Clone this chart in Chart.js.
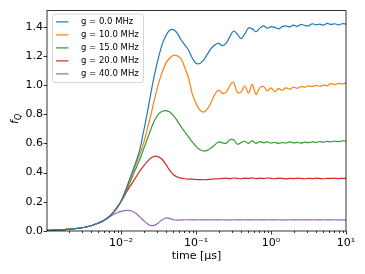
<!DOCTYPE html>
<html>
<head>
<meta charset="utf-8">
<script src="https://cdn.jsdelivr.net/npm/chart.js@4.4.1/dist/chart.umd.min.js"></script>
<style>
  html, body { margin: 0; padding: 0; background: #fff; }
  #wrap { width: 365px; height: 274px; }
</style>
</head>
<body>
<div id="wrap"><canvas id="fq"></canvas></div>
<script>
// time in microseconds (log spaced samples)
const times = [
  0.001, 0.001122, 0.001259, 0.001413, 0.001585, 0.001778, 0.001995, 0.002239, 0.002512, 0.002818,
  0.003162, 0.003548, 0.003981, 0.004467, 0.005012, 0.005623, 0.00631, 0.007079, 0.007943, 0.008913,
  0.01, 0.01122, 0.01259, 0.01413, 0.01585, 0.01778, 0.01995, 0.02239, 0.02512, 0.02818,
  0.03162, 0.03548, 0.03981, 0.04467, 0.05012, 0.05623, 0.0631, 0.07079, 0.07943, 0.08913,
  0.1, 0.1122, 0.1259, 0.1413, 0.1585, 0.1778, 0.1995, 0.2239, 0.2512, 0.2818,
  0.3162, 0.3548, 0.3981, 0.4467, 0.5012, 0.5623, 0.631, 0.7079, 0.7943, 0.8913,
  1, 1.122, 1.259, 1.413, 1.585, 1.778, 1.995, 2.239, 2.512, 2.818,
  3.162, 3.548, 3.981, 4.467, 5.012, 5.623, 6.31, 7.079, 7.943, 8.913, 10
];

const seriesLabels = ["g = 0.0 MHz", "g = 10.0 MHz", "g = 15.0 MHz", "g = 20.0 MHz", "g = 40.0 MHz"];

const fqG0 = [
  0.004, 0.005, 0.006, 0.007, 0.008, 0.010, 0.012, 0.014, 0.017, 0.020,
  0.024, 0.029, 0.036, 0.045, 0.055, 0.066, 0.082, 0.103, 0.130, 0.165,
  0.205, 0.265, 0.335, 0.405, 0.475, 0.555, 0.68, 0.81, 0.95, 1.08,
  1.19, 1.28, 1.34, 1.375, 1.38, 1.355, 1.31, 1.275, 1.24, 1.185,
  1.15, 1.148, 1.17, 1.21, 1.25, 1.275, 1.285, 1.27, 1.285, 1.33,
  1.37, 1.35, 1.318, 1.35, 1.39, 1.385, 1.365, 1.39, 1.405, 1.39,
  1.40, 1.395, 1.385, 1.40, 1.405, 1.398, 1.41, 1.402, 1.415, 1.408,
  1.405, 1.42, 1.412, 1.418, 1.41, 1.422, 1.415, 1.42, 1.412, 1.42, 1.418
];
const fqG10 = [
  0.004, 0.005, 0.006, 0.007, 0.008, 0.010, 0.012, 0.014, 0.017, 0.020,
  0.024, 0.029, 0.036, 0.045, 0.055, 0.066, 0.082, 0.103, 0.130, 0.165,
  0.203, 0.26, 0.325, 0.39, 0.455, 0.525, 0.6, 0.7, 0.8, 0.91,
  1.01, 1.09, 1.15, 1.185, 1.203, 1.2, 1.18, 1.12, 1.05, 0.94,
  0.875, 0.83, 0.815, 0.835, 0.88, 0.935, 0.965, 0.945, 0.95, 0.995,
  1.02, 0.95, 0.95, 0.995, 0.945, 1.005, 0.935, 0.98, 0.99, 0.96,
  0.98, 0.955, 0.975, 0.965, 0.98, 0.972, 0.985, 0.978, 0.99, 0.985,
  0.995, 0.99, 0.998, 0.992, 1.0, 0.995, 1.01, 1.003, 1.012, 1.006, 1.015
];
const fqG15 = [
  0.004, 0.005, 0.006, 0.007, 0.008, 0.010, 0.012, 0.014, 0.017, 0.020,
  0.024, 0.029, 0.036, 0.045, 0.055, 0.066, 0.082, 0.103, 0.129, 0.163,
  0.2, 0.25, 0.31, 0.37, 0.43, 0.49, 0.56, 0.63, 0.70, 0.76,
  0.80, 0.82, 0.825, 0.815, 0.79, 0.755, 0.715, 0.68, 0.645, 0.61,
  0.58, 0.558, 0.548, 0.552, 0.568, 0.59, 0.61, 0.605, 0.60, 0.625,
  0.625, 0.595, 0.605, 0.615, 0.60, 0.618, 0.60, 0.612, 0.605, 0.61,
  0.602, 0.608, 0.6, 0.606, 0.603, 0.61, 0.604, 0.607, 0.602, 0.609,
  0.605, 0.611, 0.607, 0.612, 0.609, 0.614, 0.61, 0.616, 0.612, 0.618, 0.615
];
const fqG20 = [
  0.004, 0.005, 0.006, 0.007, 0.008, 0.010, 0.012, 0.014, 0.017, 0.020,
  0.024, 0.029, 0.036, 0.045, 0.055, 0.066, 0.082, 0.102, 0.127, 0.16,
  0.2, 0.245, 0.29, 0.33, 0.37, 0.41, 0.445, 0.475, 0.5, 0.512,
  0.508, 0.49, 0.455, 0.415, 0.385, 0.37, 0.362, 0.358, 0.356, 0.355,
  0.353, 0.352, 0.351, 0.352, 0.355, 0.357, 0.358, 0.36, 0.362, 0.359,
  0.363, 0.361, 0.358, 0.362, 0.36, 0.364, 0.359, 0.362, 0.36, 0.363,
  0.361, 0.358, 0.362, 0.36, 0.357, 0.361, 0.359, 0.362, 0.36, 0.358,
  0.361, 0.359, 0.362, 0.36, 0.358, 0.361, 0.36, 0.362, 0.359, 0.361, 0.36
];
const fqG40 = [
  0.004, 0.005, 0.006, 0.007, 0.008, 0.010, 0.012, 0.014, 0.017, 0.020,
  0.024, 0.029, 0.036, 0.045, 0.055, 0.066, 0.080, 0.098, 0.113, 0.125,
  0.134, 0.14, 0.141, 0.135, 0.12, 0.097, 0.072, 0.05, 0.037, 0.04,
  0.057, 0.077, 0.089, 0.086, 0.077, 0.074, 0.076, 0.077, 0.077, 0.076,
  0.076, 0.077, 0.076, 0.076, 0.077, 0.076, 0.076, 0.077, 0.076, 0.076,
  0.077, 0.076, 0.076, 0.077, 0.076, 0.076, 0.077, 0.076, 0.076, 0.077,
  0.076, 0.076, 0.077, 0.076, 0.076, 0.077, 0.076, 0.076, 0.077, 0.076,
  0.076, 0.077, 0.076, 0.076, 0.077, 0.076, 0.076, 0.077, 0.076, 0.076, 0.077
];

const xTicks = [0.01, 0.1, 1, 10];
const xTickLabels = ["10⁻²", "10⁻¹", "10⁰", "10¹"];
const yTicks = [0, 0.2, 0.4, 0.6, 0.8, 1.0, 1.2, 1.4];
const yTickLabels = ["0.0", "0.2", "0.4", "0.6", "0.8", "1.0", "1.2", "1.4"];

const colors = ["#1f77b4", "#ff7f0e", "#2ca02c", "#d62728", "#9467bd"];
const allSeries = [fqG0, fqG10, fqG15, fqG20, fqG40];

const tickFont = { family: "DejaVu Sans", size: 11 };

// frame, tick marks, legend box and the f_Q label
const extras = {
  id: "extras",
  afterDatasetsDraw(chart) {
    const { ctx, chartArea: a, scales: { x, y } } = chart;
    ctx.save();
    ctx.strokeStyle = "#000";
    ctx.lineWidth = 0.8;
    ctx.beginPath();
    for (let e = -3; e <= 1; e++) {
      for (let m = 1; m <= 9; m++) {
        const v = m * Math.pow(10, e);
        if (v < x.min || v > x.max * 1.0001) continue;
        const px = Math.round(x.getPixelForValue(v)) + 0.5;
        const len = m === 1 ? 3.5 : 2;
        ctx.moveTo(px, a.bottom);
        ctx.lineTo(px, a.bottom + len);
      }
    }
    yTicks.forEach(v => {
      const py = Math.round(y.getPixelForValue(v)) + 0.5;
      ctx.moveTo(a.left, py);
      ctx.lineTo(a.left - 3.5, py);
    });
    ctx.stroke();
    ctx.strokeRect(a.left, a.top, a.right - a.left, a.bottom - a.top);

    // legend
    const lx = a.left + 5.5, ly = a.top + 3.5;
    ctx.beginPath();
    ctx.roundRect(lx, ly, 91, 68.5, 2.5);
    ctx.fillStyle = "rgba(255,255,255,0.8)";
    ctx.fill();
    ctx.strokeStyle = "#cccccc";
    ctx.stroke();
    ctx.font = '8.5px "DejaVu Sans"';
    ctx.textBaseline = "middle";
    chart.data.datasets.forEach((ds, i) => {
      const ry = ly + 7.8 + i * 13;
      ctx.strokeStyle = ds.borderColor;
      ctx.lineWidth = 1.2;
      ctx.beginPath();
      ctx.moveTo(a.left + 9, ry);
      ctx.lineTo(a.left + 21.5, ry);
      ctx.stroke();
      ctx.fillStyle = "#000";
      ctx.fillText(ds.label, a.left + 34, ry);
    });

    // y axis label: f_Q
    ctx.translate(18, (a.top + a.bottom) / 2 - 2);
    ctx.rotate(-Math.PI / 2);
    ctx.textBaseline = "alphabetic";
    ctx.font = 'italic 11px "DejaVu Sans"';
    const fw = ctx.measureText("f").width;
    ctx.font = 'italic 8px "DejaVu Sans"';
    const qw = ctx.measureText("Q").width;
    const start = -(fw + qw) / 2;
    ctx.fillStyle = "#000";
    ctx.font = 'italic 11px "DejaVu Sans"';
    ctx.fillText("f", start, 0);
    ctx.font = 'italic 8px "DejaVu Sans"';
    ctx.fillText("Q", start + fw, 2.5);
    ctx.restore();
  }
};

const ctx = document.getElementById("fq");

new Chart(ctx, {
  type: "line",
  data: {
    datasets: allSeries.map((vals, i) => ({
      label: seriesLabels[i],
      data: times.map((t, j) => ({ x: t, y: vals[j] })),
      borderColor: colors[i],
      backgroundColor: colors[i],
      borderWidth: 1.2,
      pointRadius: 0,
      tension: 0.35,
      fill: false,
    })),
  },
  options: {
    responsive: true,
    maintainAspectRatio: false,
    animation: false,
    devicePixelRatio: 1,
    layout: { padding: { left: 0, right: 19, top: 8, bottom: 0 } },
    plugins: {
      legend: { display: false },
      tooltip: { enabled: false },
    },
    scales: {
      x: {
        type: "logarithmic",
        min: 0.00103,
        max: 10,
        grid: { display: false, drawTicks: false },
        border: { display: false },
        afterBuildTicks: s => { s.ticks = xTicks.map(v => ({ value: v })); },
        afterFit: s => { s.height = 43; },
        ticks: {
          autoSkip: false,
          maxRotation: 0,
          padding: 6,
          color: "#000",
          font: tickFont,
          callback: (v, i) => xTickLabels[i],
        },
        title: {
          display: true,
          text: "time [μs]",
          color: "#000",
          font: tickFont,
          padding: { top: 0, bottom: 11 },
        },
      },
      y: {
        min: 0,
        max: 1.51,
        grid: { display: false, drawTicks: false },
        border: { display: false },
        afterBuildTicks: s => { s.ticks = yTicks.map(v => ({ value: v })); },
        afterFit: s => { s.width = 47; },
        ticks: {
          autoSkip: false,
          padding: 4,
          color: "#000",
          font: tickFont,
          callback: (v, i) => yTickLabels[i],
        },
      },
    },
  },
  plugins: [extras],
});
</script>
</body>
</html>
